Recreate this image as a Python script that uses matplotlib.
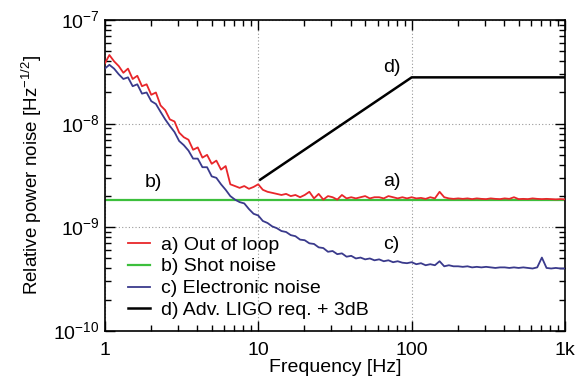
import numpy as np
import matplotlib
matplotlib.use("Agg")
import matplotlib.pyplot as plt
from matplotlib.ticker import LogLocator, FixedLocator, FixedFormatter, NullFormatter

plt.rcParams['font.family'] = ['Liberation Sans', 'DejaVu Sans']
plt.rcParams['mathtext.fontset'] = 'custom'
plt.rcParams['mathtext.rm'] = 'Liberation Sans'

# frequency grid, one decade of mantissas repeated
mant = [1.000, 1.072, 1.150, 1.233, 1.322, 1.417, 1.520, 1.630, 1.748, 1.874,
        2.009, 2.154, 2.310, 2.477, 2.656, 2.848, 3.054, 3.275, 3.511, 3.765,
        4.037, 4.329, 4.642, 4.977, 5.337, 5.722, 6.136, 6.579, 7.055, 7.565,
        8.111, 8.697, 9.326]
freq = np.concatenate([mant, np.array(mant) * 10, np.array(mant) * 100, [1000.0]])

# a) out of loop, units of 1e-9
out_of_loop = [38, 46, 40, 36, 31, 34, 27, 29, 23, 24,
               19, 20, 15, 13.5, 11, 10.5, 8.2, 7.4, 7.0, 5.6,
               5.9, 4.7, 5.0, 4.1, 4.4, 3.6, 3.9, 2.6, 2.5, 2.4,
               2.5, 2.35, 2.45,
               2.6, 2.3, 2.2, 2.15, 2.1, 2.05, 2.1, 2.0, 2.05, 1.95,
               2.05, 2.2, 1.9, 2.1, 1.85, 2.0, 1.95, 1.85, 2.05, 1.9,
               1.95, 1.9, 1.95, 2.0, 1.9, 1.95, 1.95, 1.9, 2.0, 1.95,
               1.9, 1.95, 1.9,
               1.95, 1.9, 1.92, 1.88, 1.95, 1.9, 2.2, 1.95, 1.9, 1.88,
               1.9, 1.88, 1.9, 1.87, 1.9, 1.88, 1.87, 1.9, 1.88, 1.87,
               1.9, 1.88, 1.95, 1.87, 1.88, 1.87, 1.9, 1.88, 1.87, 1.88,
               1.87, 1.86, 1.87, 1.86]

# c) electronic noise, units of 1e-9
electronic = [34, 37, 34, 30, 27, 28, 23, 24, 19.5, 20,
              16.5, 15.5, 13, 11, 9.5, 8.3, 6.8, 6.2, 5.5, 4.6,
              4.6, 3.8, 3.8, 3.1, 3.0, 2.6, 2.3, 2.0, 1.85, 1.75,
              1.7, 1.5, 1.35,
              1.3, 1.15, 1.1, 1.02, 0.98, 0.92, 0.9, 0.84, 0.82, 0.76,
              0.75, 0.7, 0.69, 0.64, 0.63, 0.58, 0.59, 0.55, 0.56, 0.52,
              0.53, 0.5, 0.51, 0.49, 0.5, 0.48, 0.49, 0.47, 0.48, 0.46,
              0.47, 0.455, 0.45,
              0.46, 0.44, 0.45, 0.43, 0.44, 0.43, 0.47, 0.42, 0.43, 0.42,
              0.42, 0.415, 0.42, 0.41, 0.415, 0.41, 0.415, 0.41, 0.405, 0.41,
              0.41, 0.405, 0.41, 0.405, 0.41, 0.405, 0.40, 0.41, 0.51, 0.405,
              0.40, 0.405, 0.40, 0.40]

# b) shot noise level and d) LIGO requirement
shot_freq = [1, 1000]
shot_level = [1.84e-9, 1.84e-9]
ligo_freq = [10.3, 100, 1000]
ligo_level = [2.88e-9, 2.8e-8, 2.8e-8]

fig = plt.figure(figsize=(5.82, 3.79), dpi=100)
ax = fig.add_axes([0.180, 0.127, 0.791, 0.820])

ax.plot(freq, np.array(out_of_loop) * 1e-9, color='#e8262a', lw=1.3, label='a) Out of loop', zorder=3)
ax.plot(shot_freq, shot_level, color='#3cbf3c', lw=1.6, label='b) Shot noise', zorder=2)
ax.plot(freq, np.array(electronic) * 1e-9, color='#3a3a8c', lw=1.3, label='c) Electronic noise', zorder=3)
ax.plot(ligo_freq, ligo_level, color='black', lw=1.8, label='d) Adv. LIGO req. + 3dB', zorder=3)

ax.set_xscale('log')
ax.set_yscale('log')
ax.set_xlim(1, 1000)
ax.set_ylim(1e-10, 1e-7)

ax.xaxis.set_major_locator(FixedLocator([1, 10, 100, 1000]))
ax.xaxis.set_major_formatter(FixedFormatter(['1', '10', '100', '1k']))
ax.xaxis.set_minor_locator(LogLocator(base=10, subs=np.arange(2, 10)))
ax.xaxis.set_minor_formatter(NullFormatter())
ax.yaxis.set_major_locator(FixedLocator([1e-10, 1e-9, 1e-8, 1e-7]))
ax.yaxis.set_major_formatter(FixedFormatter(['$10^{-10}$', '$10^{-9}$', '$10^{-8}$', '$10^{-7}$']))
ax.yaxis.set_minor_locator(LogLocator(base=10, subs=np.arange(2, 10)))
ax.yaxis.set_minor_formatter(NullFormatter())

ax.tick_params(which='both', direction='in', top=True, right=True, labelsize=14)
ax.tick_params(which='major', length=7, width=1)
ax.tick_params(which='minor', length=4, width=1)
ax.tick_params(axis='x', pad=8)
for s in ax.spines.values():
    s.set_linewidth(1.2)

ax.grid(True, which='major', color='#999999', linestyle=(0, (1, 2)), linewidth=0.8)

ax.set_xlabel('Frequency [Hz]', fontsize=14, labelpad=0)
ax.set_ylabel('Relative power noise [Hz$^{-1/2}$]', fontsize=13.5, labelpad=7)

ax.text(74, 2.75e-9, 'a)', fontsize=14, ha='center', va='center')
ax.text(2.06, 2.7e-9, 'b)', fontsize=14, ha='center', va='center')
ax.text(74, 6.8e-10, 'c)', fontsize=14, ha='center', va='center')
ax.text(74, 3.45e-8, 'd)', fontsize=14, ha='center', va='center')

ax.legend(loc='lower left', frameon=False, fontsize=14, handlelength=1.15,
          handletextpad=0.55, labelspacing=0.22, borderaxespad=0.2,
          bbox_to_anchor=(0.025, 0.0))

fig.savefig('out.png', dpi=100)
